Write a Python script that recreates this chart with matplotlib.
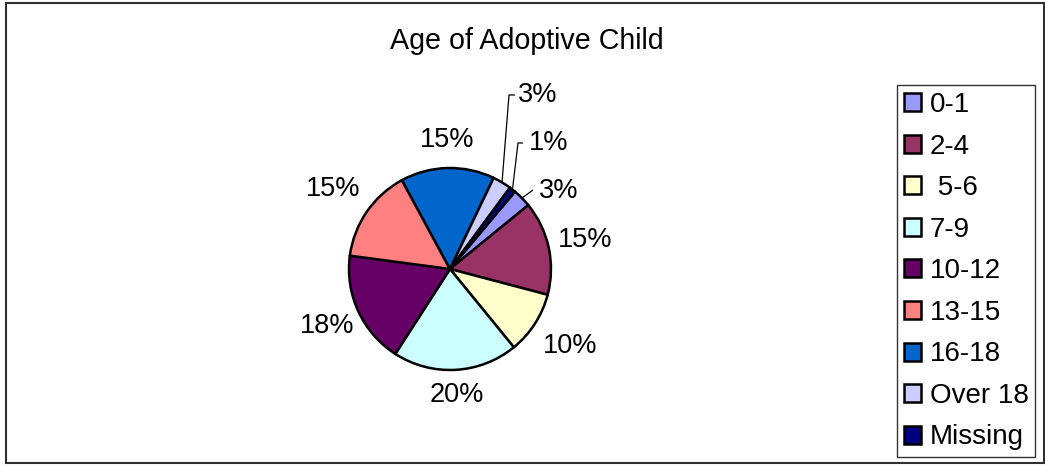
import matplotlib
matplotlib.use('Agg')
import matplotlib.pyplot as plt
from matplotlib.patches import Rectangle
import numpy as np

categories = ['0-1', '2-4', ' 5-6', '7-9', '10-12', '13-15', '16-18', 'Over 18', 'Missing']
values = [3, 15, 10, 20, 18, 15, 15, 3, 1]
colors = ['#9999FF', '#993366', '#FFFFCC', '#CCFFFF', '#660066',
          '#FF8080', '#0066CC', '#CCCCFF', '#000080']
title = 'Age of Adoptive Child'

plt.rcParams['font.family'] = ['Liberation Sans', 'DejaVu Sans']
W, H = 1045, 466
fig = plt.figure(figsize=(W / 100, H / 100), dpi=100)

# outer chart frame
fig.patches.append(Rectangle((6 / W, 3 / H), (1044 - 6) / W, (463 - 3) / H,
                             transform=fig.transFigure, fill=False,
                             edgecolor='#303030', linewidth=1.5))

cx, cy, R = 450, 269, 101
S = 2.0  # axes half-size in radius units
ax = fig.add_axes([(cx - S * R) / W, (H - cy - S * R) / H, 2 * S * R / W, 2 * S * R / H])
wedges, texts, autotexts = ax.pie(
    values, colors=colors, startangle=50, counterclock=False,
    autopct='%1.0f%%', pctdistance=1.34,
    wedgeprops=dict(edgecolor='black', linewidth=1.8),
    textprops=dict(fontsize=19.5))
ax.set_xlim(-S, S)
ax.set_ylim(-S, S)
ax.set_aspect('equal')
ax.axis('off')

# manual placement of small-slice labels with leader lines
leaders = {
    0: [(533 - cx, 190 - cy)],
    7: [(509 - cx, 95 - cy), (515 - cx, 95 - cy)],
    8: [(518 - cx, 143 - cy), (523 - cx, 143 - cy)],
}
text_pos = {0: (539 - cx, 191 - cy), 7: (518 - cx, 95 - cy), 8: (529 - cx, 143 - cy)}
for i, pts in leaders.items():
    w = wedges[i]
    th = np.deg2rad((w.theta1 + w.theta2) / 2)
    xs = [np.cos(th)] + [p[0] / R for p in pts]
    ys = [np.sin(th)] + [-p[1] / R for p in pts]
    ax.plot(xs, ys, color='black', linewidth=0.9, solid_capstyle='butt')
    tx, ty = text_pos[i]
    autotexts[i].set_position((tx / R, -ty / R))
    autotexts[i].set_ha('left')

# slight per-label radial tweaks
for i, d in {3: 1.25, 6: 1.28, 5: 1.4, 2: 1.41, 1: 1.37}.items():
    w = wedges[i]
    th = np.deg2rad((w.theta1 + w.theta2) / 2)
    autotexts[i].set_position((d * np.cos(th), d * np.sin(th)))

fig.text(527 / W, 1 - 41 / H, title, ha='center', va='center', fontsize=20.6)

leg = ax.legend(wedges, categories, loc='upper left',
                bbox_to_anchor=(897 / W, 1 - 85 / H), bbox_transform=fig.transFigure,
                borderaxespad=0, fontsize=20, frameon=True, fancybox=False,
                handlelength=0.62, handleheight=0.62, handletextpad=0.3,
                labelspacing=0.56, borderpad=0.25)
leg.get_frame().set_edgecolor('black')
leg.get_frame().set_linewidth(1.0)
for h in leg.legend_handles:
    h.set_edgecolor('black')
    h.set_linewidth(1.8)

fig.savefig('out.png', dpi=100)
